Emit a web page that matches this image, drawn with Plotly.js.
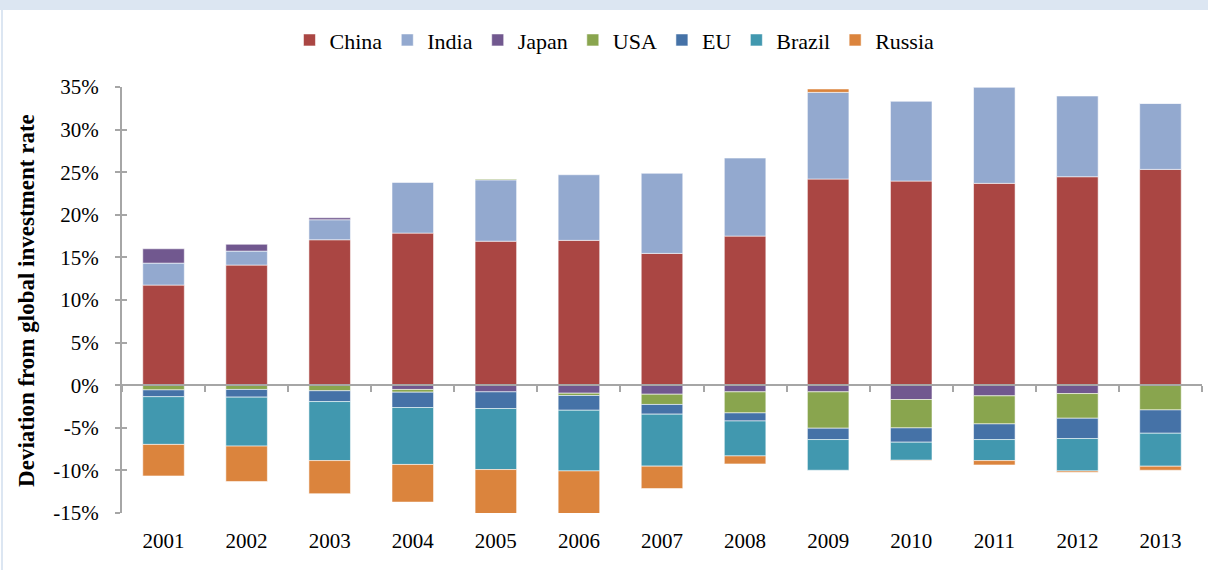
<!DOCTYPE html>
<html>
<head>
<meta charset="utf-8">
<script src="https://cdn.plot.ly/plotly-3.0.1.min.js"></script>
<style>
  html, body { margin: 0; padding: 0; background: #ffffff; }
  #wrap { position: relative; width: 1208px; height: 570px; overflow: hidden; }
  #band { position: absolute; left: 0; top: 0; width: 1208px; height: 10px; background: #dce6f2; }
  #lborder { position: absolute; left: 1px; top: 10px; width: 2px; height: 560px; background: #dce6f2; }
  #chart { position: absolute; left: 0; top: 0; width: 1208px; height: 570px; }
</style>
</head>
<body>
<div id="wrap">
  <div id="band"></div>
  <div id="lborder"></div>
  <div id="chart"></div>
</div>
<script>
// ---- data (percent deviation from global investment rate) ----
const years  = ['2001','2002','2003','2004','2005','2006','2007','2008','2009','2010','2011','2012','2013'];
const china  = [11.75, 14.10, 17.07, 17.85, 16.90, 17.00, 15.47, 17.50, 24.20, 23.96, 23.69, 24.47, 25.33];
const india  = [ 2.58,  1.64,  2.35,  5.95,  7.20,  7.70,  9.40,  9.16, 10.17,  9.36, 11.27,  9.47,  7.76];
const japan  = [ 1.68,  0.80,  0.23, -0.50, -0.78, -0.94, -1.06, -0.78, -0.78, -1.68, -1.25, -0.98,  0.00];
const usa    = [-0.55, -0.50, -0.65, -0.32,  0.10, -0.27, -1.20, -2.47, -4.27, -3.33, -3.29, -2.90, -2.90];
const eu     = [-0.80, -0.90, -1.27, -1.80, -1.96, -1.73, -1.14, -0.95, -1.33, -1.68, -1.84, -2.38, -2.74];
const brazil = [-5.60, -5.75, -6.93, -6.68, -7.16, -7.12, -6.10, -4.10, -3.60, -2.12, -2.47, -3.80, -3.87];
const russia = [-3.70, -4.15, -3.88, -4.42, -5.37, -5.09, -2.63, -0.94,  0.40, -0.05, -0.51, -0.15, -0.47];
const seriesNames  = ['China','India','Japan','USA','EU','Brazil','Russia'];
const seriesValues = [china, india, japan, usa, eu, brazil, russia];
const yTickVals = [-15, -10, -5, 0, 5, 10, 15, 20, 25, 30, 35];
const yTitle = 'Deviation from global investment rate';

// ---- styles ----
const seriesColors = ['#aa4643', '#93a9cf', '#71588f', '#89a54e', '#4572a7', '#4198af', '#db843d'];
const axisGray = '#a6a6a6';
const serif = 'Liberation Serif, Times New Roman, serif';
const yMin = yTickVals[0], yMax = yTickVals[yTickVals.length - 1];
const yTickText = yTickVals.map(v => v + '%');

const traces = seriesNames.map((name, i) => ({
  type: 'bar',
  name: name,
  x: years,
  y: seriesValues[i],
  marker: { color: seriesColors[i], line: { color: 'rgba(255,255,255,0.55)', width: 1 } },
  hovertemplate: name + ' %{x}: %{y:.1f}%<extra></extra>'
}));

// helper trace so the overlay axes (zero-line ticks, inner y ticks) are drawn
traces.push({
  type: 'scatter', mode: 'markers', x: years, y: years.map(() => null),
  xaxis: 'x2', yaxis: 'y2', showlegend: false, hoverinfo: 'skip'
});

const layout = {
  width: 1208, height: 570,
  margin: { l: 122, r: 6, t: 87, b: 57 },
  paper_bgcolor: 'rgba(0,0,0,0)',
  plot_bgcolor: 'rgba(0,0,0,0)',
  barmode: 'relative',
  bargap: 0.5,
  font: { family: serif, size: 21, color: '#000000' },
  showlegend: true,
  legend: {
    orientation: 'h', x: 0.456, xanchor: 'center', y: 1.11, yanchor: 'middle',
    font: { family: serif, size: 22, color: '#000000' },
    traceorder: 'normal', bgcolor: 'rgba(0,0,0,0)', itemwidth: 30
  },
  xaxis: {
    type: 'category', range: [-0.5, years.length - 0.5],
    showline: false, showgrid: false, zeroline: false,
    ticks: '', ticklabelstandoff: 13,
    tickfont: { family: serif, size: 21, color: '#000000' },
    fixedrange: true
  },
  xaxis2: {
    type: 'category', overlaying: 'x', anchor: 'free', side: 'bottom',
    position: (0 - yMin) / (yMax - yMin),
    range: [-0.5, years.length - 0.5],
    showline: true, linecolor: axisGray, linewidth: 2,
    ticks: 'outside', tickson: 'boundaries', ticklen: 6, tickwidth: 2, tickcolor: axisGray,
    showticklabels: false, showgrid: false, zeroline: false, fixedrange: true
  },
  yaxis: {
    range: [yMin, yMax], tickvals: yTickVals, ticktext: yTickText,
    showline: true, linecolor: axisGray, linewidth: 2,
    ticks: 'outside', ticklen: 5, tickwidth: 2, tickcolor: axisGray,
    ticklabelstandoff: 12,
    showgrid: false, zeroline: false,
    tickfont: { family: serif, size: 21, color: '#000000' },
    fixedrange: true
  },
  yaxis2: {
    overlaying: 'y', anchor: 'x', side: 'left',
    range: [yMin, yMax], tickvals: yTickVals,
    ticks: 'inside', ticklen: 5, tickwidth: 2, tickcolor: axisGray,
    showticklabels: false, showgrid: false, zeroline: false, showline: false, fixedrange: true
  },
  annotations: [{
    text: '<b>' + yTitle + '</b>', textangle: -90,
    xref: 'paper', yref: 'paper', x: -0.089, y: 0.5, xanchor: 'center', yanchor: 'middle',
    showarrow: false, font: { family: serif, size: 23, color: '#000000' }
  }]
};

Plotly.newPlot('chart', traces, layout, { displayModeBar: false, staticPlot: false, responsive: false });
</script>
</body>
</html>
